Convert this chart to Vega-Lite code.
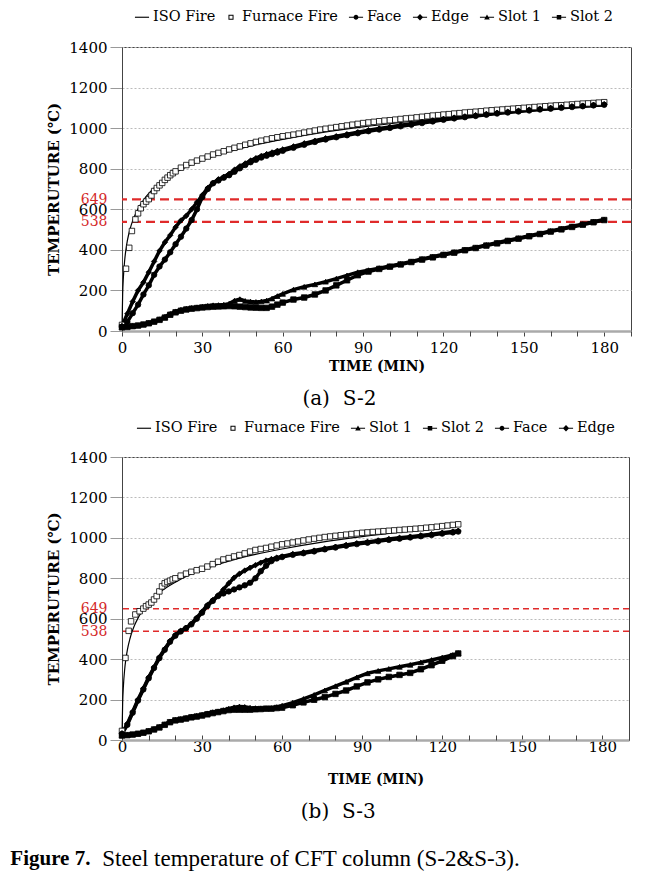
{
"$schema": "https://vega.github.io/schema/vega-lite/v6.json",
"background": "white",
"padding": {"left": 10, "top": 8, "right": 5, "bottom": 3},
"config": {"view": {"stroke": "#444", "strokeWidth": 1}, "font": "DejaVu Serif", "axis": {"labelOverlap": false}},
"datasets": {
"a": [
{"s":"ISO Fire","t":0,"v":20},{"s":"ISO Fire","t":0.25,"v":185},{"s":"ISO Fire","t":0.5,"v":261},{"s":"ISO Fire","t":1,"v":349},{"s":"ISO Fire","t":1.5,"v":404},{"s":"ISO Fire","t":2,"v":445},{"s":"ISO Fire","t":3,"v":502},{"s":"ISO Fire","t":4,"v":544},{"s":"ISO Fire","t":5,"v":576},{"s":"ISO Fire","t":6,"v":603},{"s":"ISO Fire","t":7,"v":626},{"s":"ISO Fire","t":8,"v":645},{"s":"ISO Fire","t":10,"v":678},{"s":"ISO Fire","t":12,"v":705},{"s":"ISO Fire","t":15,"v":739},{"s":"ISO Fire","t":20,"v":781},{"s":"ISO Fire","t":25,"v":815},{"s":"ISO Fire","t":30,"v":842},{"s":"ISO Fire","t":40,"v":885},{"s":"ISO Fire","t":50,"v":918},{"s":"ISO Fire","t":60,"v":945},{"s":"ISO Fire","t":75,"v":979},{"s":"ISO Fire","t":90,"v":1006},{"s":"ISO Fire","t":105,"v":1029},{"s":"ISO Fire","t":120,"v":1049},{"s":"ISO Fire","t":135,"v":1067},{"s":"ISO Fire","t":150,"v":1082},{"s":"ISO Fire","t":165,"v":1097},{"s":"ISO Fire","t":180,"v":1110},
{"s":"Furnace Fire","t":0,"v":30},{"s":"Furnace Fire","t":1.5,"v":307},{"s":"Furnace Fire","t":2.7,"v":410},{"s":"Furnace Fire","t":3.7,"v":493},{"s":"Furnace Fire","t":5,"v":550},{"s":"Furnace Fire","t":6,"v":580},{"s":"Furnace Fire","t":7,"v":605},{"s":"Furnace Fire","t":8,"v":625},{"s":"Furnace Fire","t":9,"v":638},{"s":"Furnace Fire","t":10,"v":650},{"s":"Furnace Fire","t":11,"v":668},{"s":"Furnace Fire","t":12,"v":690},{"s":"Furnace Fire","t":13,"v":705},{"s":"Furnace Fire","t":14,"v":718},{"s":"Furnace Fire","t":15,"v":730},{"s":"Furnace Fire","t":16,"v":745},{"s":"Furnace Fire","t":17,"v":756},{"s":"Furnace Fire","t":18,"v":768},{"s":"Furnace Fire","t":19,"v":778},{"s":"Furnace Fire","t":20,"v":787},{"s":"Furnace Fire","t":22,"v":805},{"s":"Furnace Fire","t":24,"v":818},{"s":"Furnace Fire","t":26,"v":830},{"s":"Furnace Fire","t":28,"v":840},{"s":"Furnace Fire","t":30,"v":850},{"s":"Furnace Fire","t":32,"v":860},{"s":"Furnace Fire","t":34,"v":870},{"s":"Furnace Fire","t":36,"v":878},{"s":"Furnace Fire","t":38,"v":886},{"s":"Furnace Fire","t":40,"v":895},{"s":"Furnace Fire","t":42,"v":903},{"s":"Furnace Fire","t":44,"v":910},{"s":"Furnace Fire","t":46,"v":918},{"s":"Furnace Fire","t":48,"v":925},{"s":"Furnace Fire","t":50,"v":932},{"s":"Furnace Fire","t":52,"v":938},{"s":"Furnace Fire","t":54,"v":944},{"s":"Furnace Fire","t":56,"v":950},{"s":"Furnace Fire","t":58,"v":955},{"s":"Furnace Fire","t":60,"v":960},{"s":"Furnace Fire","t":62,"v":964},{"s":"Furnace Fire","t":64,"v":968},{"s":"Furnace Fire","t":66,"v":973},{"s":"Furnace Fire","t":68,"v":978},{"s":"Furnace Fire","t":70,"v":983},{"s":"Furnace Fire","t":72,"v":988},{"s":"Furnace Fire","t":74,"v":993},{"s":"Furnace Fire","t":76,"v":997},{"s":"Furnace Fire","t":78,"v":1001},{"s":"Furnace Fire","t":80,"v":1005},{"s":"Furnace Fire","t":82,"v":1009},{"s":"Furnace Fire","t":84,"v":1013},{"s":"Furnace Fire","t":86,"v":1017},{"s":"Furnace Fire","t":88,"v":1021},{"s":"Furnace Fire","t":90,"v":1025},{"s":"Furnace Fire","t":92,"v":1028},{"s":"Furnace Fire","t":94,"v":1031},{"s":"Furnace Fire","t":96,"v":1034},{"s":"Furnace Fire","t":98,"v":1037},{"s":"Furnace Fire","t":100,"v":1039},{"s":"Furnace Fire","t":102,"v":1042},{"s":"Furnace Fire","t":104,"v":1045},{"s":"Furnace Fire","t":106,"v":1048},{"s":"Furnace Fire","t":108,"v":1050},{"s":"Furnace Fire","t":110,"v":1053},{"s":"Furnace Fire","t":112,"v":1056},{"s":"Furnace Fire","t":114,"v":1059},{"s":"Furnace Fire","t":116,"v":1062},{"s":"Furnace Fire","t":118,"v":1064},{"s":"Furnace Fire","t":120,"v":1067},{"s":"Furnace Fire","t":122,"v":1069},{"s":"Furnace Fire","t":124,"v":1072},{"s":"Furnace Fire","t":126,"v":1074},{"s":"Furnace Fire","t":128,"v":1077},{"s":"Furnace Fire","t":130,"v":1079},{"s":"Furnace Fire","t":132,"v":1081},{"s":"Furnace Fire","t":134,"v":1083},{"s":"Furnace Fire","t":136,"v":1086},{"s":"Furnace Fire","t":138,"v":1088},{"s":"Furnace Fire","t":140,"v":1090},{"s":"Furnace Fire","t":142,"v":1092},{"s":"Furnace Fire","t":144,"v":1094},{"s":"Furnace Fire","t":146,"v":1096},{"s":"Furnace Fire","t":148,"v":1098},{"s":"Furnace Fire","t":150,"v":1100},{"s":"Furnace Fire","t":152,"v":1102},{"s":"Furnace Fire","t":154,"v":1104},{"s":"Furnace Fire","t":156,"v":1106},{"s":"Furnace Fire","t":158,"v":1108},{"s":"Furnace Fire","t":160,"v":1110},{"s":"Furnace Fire","t":162,"v":1112},{"s":"Furnace Fire","t":164,"v":1113},{"s":"Furnace Fire","t":166,"v":1115},{"s":"Furnace Fire","t":168,"v":1117},{"s":"Furnace Fire","t":170,"v":1119},{"s":"Furnace Fire","t":172,"v":1121},{"s":"Furnace Fire","t":174,"v":1122},{"s":"Furnace Fire","t":176,"v":1124},{"s":"Furnace Fire","t":178,"v":1126},{"s":"Furnace Fire","t":180,"v":1128},
{"s":"Edge","t":0,"v":25},{"s":"Edge","t":2,"v":85},{"s":"Edge","t":4,"v":145},{"s":"Edge","t":6,"v":200},{"s":"Edge","t":8,"v":240},{"s":"Edge","t":10,"v":290},{"s":"Edge","t":12,"v":343},{"s":"Edge","t":14,"v":395},{"s":"Edge","t":16,"v":437},{"s":"Edge","t":18,"v":472},{"s":"Edge","t":20,"v":512},{"s":"Edge","t":22,"v":545},{"s":"Edge","t":24,"v":568},{"s":"Edge","t":26,"v":600},{"s":"Edge","t":28,"v":635},{"s":"Edge","t":30,"v":670},{"s":"Edge","t":32,"v":705},{"s":"Edge","t":34,"v":730},{"s":"Edge","t":36,"v":748},{"s":"Edge","t":38,"v":760},{"s":"Edge","t":40,"v":775},{"s":"Edge","t":42,"v":795},{"s":"Edge","t":44,"v":812},{"s":"Edge","t":46,"v":826},{"s":"Edge","t":48,"v":840},{"s":"Edge","t":50,"v":852},{"s":"Edge","t":52,"v":863},{"s":"Edge","t":54,"v":872},{"s":"Edge","t":56,"v":880},{"s":"Edge","t":58,"v":888},{"s":"Edge","t":60,"v":895},{"s":"Edge","t":64,"v":910},{"s":"Edge","t":68,"v":925},{"s":"Edge","t":72,"v":938},{"s":"Edge","t":76,"v":950},{"s":"Edge","t":80,"v":960},{"s":"Edge","t":84,"v":970},{"s":"Edge","t":88,"v":980},{"s":"Edge","t":92,"v":990},{"s":"Edge","t":96,"v":998},{"s":"Edge","t":100,"v":1006},{"s":"Edge","t":104,"v":1014},{"s":"Edge","t":108,"v":1022},{"s":"Edge","t":112,"v":1030},{"s":"Edge","t":116,"v":1038},{"s":"Edge","t":120,"v":1046},{"s":"Edge","t":124,"v":1052},{"s":"Edge","t":128,"v":1058},{"s":"Edge","t":132,"v":1064},{"s":"Edge","t":136,"v":1070},{"s":"Edge","t":140,"v":1076},{"s":"Edge","t":144,"v":1081},{"s":"Edge","t":148,"v":1086},{"s":"Edge","t":152,"v":1091},{"s":"Edge","t":156,"v":1096},{"s":"Edge","t":160,"v":1100},{"s":"Edge","t":164,"v":1104},{"s":"Edge","t":168,"v":1108},{"s":"Edge","t":172,"v":1111},{"s":"Edge","t":176,"v":1115},{"s":"Edge","t":180,"v":1118},
{"s":"Face","t":0,"v":20},{"s":"Face","t":2,"v":45},{"s":"Face","t":4,"v":88},{"s":"Face","t":6,"v":130},{"s":"Face","t":8,"v":180},{"s":"Face","t":10,"v":225},{"s":"Face","t":12,"v":277},{"s":"Face","t":14,"v":318},{"s":"Face","t":16,"v":352},{"s":"Face","t":18,"v":388},{"s":"Face","t":20,"v":428},{"s":"Face","t":22,"v":465},{"s":"Face","t":24,"v":505},{"s":"Face","t":26,"v":547},{"s":"Face","t":28,"v":600},{"s":"Face","t":30,"v":660},{"s":"Face","t":32,"v":700},{"s":"Face","t":34,"v":728},{"s":"Face","t":36,"v":742},{"s":"Face","t":38,"v":756},{"s":"Face","t":40,"v":768},{"s":"Face","t":42,"v":785},{"s":"Face","t":44,"v":802},{"s":"Face","t":46,"v":818},{"s":"Face","t":48,"v":832},{"s":"Face","t":50,"v":844},{"s":"Face","t":52,"v":855},{"s":"Face","t":54,"v":864},{"s":"Face","t":56,"v":872},{"s":"Face","t":58,"v":880},{"s":"Face","t":60,"v":888},{"s":"Face","t":64,"v":903},{"s":"Face","t":68,"v":918},{"s":"Face","t":72,"v":932},{"s":"Face","t":76,"v":944},{"s":"Face","t":80,"v":955},{"s":"Face","t":84,"v":965},{"s":"Face","t":88,"v":975},{"s":"Face","t":92,"v":985},{"s":"Face","t":96,"v":993},{"s":"Face","t":100,"v":1001},{"s":"Face","t":104,"v":1009},{"s":"Face","t":108,"v":1017},{"s":"Face","t":112,"v":1025},{"s":"Face","t":116,"v":1033},{"s":"Face","t":120,"v":1041},{"s":"Face","t":124,"v":1048},{"s":"Face","t":128,"v":1054},{"s":"Face","t":132,"v":1060},{"s":"Face","t":136,"v":1066},{"s":"Face","t":140,"v":1072},{"s":"Face","t":144,"v":1077},{"s":"Face","t":148,"v":1082},{"s":"Face","t":152,"v":1087},{"s":"Face","t":156,"v":1092},{"s":"Face","t":160,"v":1096},{"s":"Face","t":164,"v":1100},{"s":"Face","t":168,"v":1104},{"s":"Face","t":172,"v":1108},{"s":"Face","t":176,"v":1112},{"s":"Face","t":180,"v":1115},
{"s":"Slot 1","t":0,"v":20},{"s":"Slot 1","t":2,"v":22},{"s":"Slot 1","t":4,"v":25},{"s":"Slot 1","t":6,"v":28},{"s":"Slot 1","t":8,"v":33},{"s":"Slot 1","t":10,"v":40},{"s":"Slot 1","t":12,"v":48},{"s":"Slot 1","t":14,"v":58},{"s":"Slot 1","t":16,"v":70},{"s":"Slot 1","t":18,"v":85},{"s":"Slot 1","t":20,"v":97},{"s":"Slot 1","t":22,"v":105},{"s":"Slot 1","t":24,"v":110},{"s":"Slot 1","t":26,"v":114},{"s":"Slot 1","t":28,"v":117},{"s":"Slot 1","t":30,"v":120},{"s":"Slot 1","t":32,"v":124},{"s":"Slot 1","t":34,"v":127},{"s":"Slot 1","t":36,"v":128},{"s":"Slot 1","t":38,"v":130},{"s":"Slot 1","t":40,"v":135},{"s":"Slot 1","t":42,"v":150},{"s":"Slot 1","t":44,"v":157},{"s":"Slot 1","t":46,"v":148},{"s":"Slot 1","t":48,"v":145},{"s":"Slot 1","t":50,"v":143},{"s":"Slot 1","t":52,"v":146},{"s":"Slot 1","t":54,"v":150},{"s":"Slot 1","t":56,"v":160},{"s":"Slot 1","t":58,"v":172},{"s":"Slot 1","t":60,"v":183},{"s":"Slot 1","t":64,"v":204},{"s":"Slot 1","t":68,"v":218},{"s":"Slot 1","t":72,"v":230},{"s":"Slot 1","t":76,"v":243},{"s":"Slot 1","t":80,"v":258},{"s":"Slot 1","t":84,"v":274},{"s":"Slot 1","t":88,"v":290},{"s":"Slot 1","t":92,"v":300},{"s":"Slot 1","t":96,"v":310},{"s":"Slot 1","t":100,"v":320},{"s":"Slot 1","t":104,"v":331},{"s":"Slot 1","t":108,"v":343},{"s":"Slot 1","t":112,"v":355},{"s":"Slot 1","t":116,"v":366},{"s":"Slot 1","t":120,"v":378},{"s":"Slot 1","t":124,"v":389},{"s":"Slot 1","t":128,"v":401},{"s":"Slot 1","t":132,"v":412},{"s":"Slot 1","t":136,"v":424},{"s":"Slot 1","t":140,"v":435},{"s":"Slot 1","t":144,"v":447},{"s":"Slot 1","t":148,"v":458},{"s":"Slot 1","t":152,"v":470},{"s":"Slot 1","t":156,"v":481},{"s":"Slot 1","t":160,"v":493},{"s":"Slot 1","t":164,"v":504},{"s":"Slot 1","t":168,"v":516},{"s":"Slot 1","t":172,"v":527},{"s":"Slot 1","t":176,"v":539},{"s":"Slot 1","t":180,"v":550},
{"s":"Slot 2","t":0,"v":18},{"s":"Slot 2","t":2,"v":20},{"s":"Slot 2","t":4,"v":24},{"s":"Slot 2","t":6,"v":27},{"s":"Slot 2","t":8,"v":32},{"s":"Slot 2","t":10,"v":38},{"s":"Slot 2","t":12,"v":46},{"s":"Slot 2","t":14,"v":55},{"s":"Slot 2","t":16,"v":66},{"s":"Slot 2","t":18,"v":80},{"s":"Slot 2","t":20,"v":92},{"s":"Slot 2","t":22,"v":100},{"s":"Slot 2","t":24,"v":106},{"s":"Slot 2","t":26,"v":110},{"s":"Slot 2","t":28,"v":113},{"s":"Slot 2","t":30,"v":116},{"s":"Slot 2","t":32,"v":118},{"s":"Slot 2","t":34,"v":120},{"s":"Slot 2","t":36,"v":121},{"s":"Slot 2","t":38,"v":122},{"s":"Slot 2","t":40,"v":123},{"s":"Slot 2","t":42,"v":122},{"s":"Slot 2","t":44,"v":120},{"s":"Slot 2","t":46,"v":118},{"s":"Slot 2","t":48,"v":116},{"s":"Slot 2","t":50,"v":115},{"s":"Slot 2","t":52,"v":114},{"s":"Slot 2","t":54,"v":114},{"s":"Slot 2","t":56,"v":120},{"s":"Slot 2","t":58,"v":130},{"s":"Slot 2","t":60,"v":140},{"s":"Slot 2","t":64,"v":155},{"s":"Slot 2","t":68,"v":165},{"s":"Slot 2","t":72,"v":180},{"s":"Slot 2","t":76,"v":200},{"s":"Slot 2","t":80,"v":225},{"s":"Slot 2","t":84,"v":250},{"s":"Slot 2","t":88,"v":275},{"s":"Slot 2","t":92,"v":293},{"s":"Slot 2","t":96,"v":306},{"s":"Slot 2","t":100,"v":317},{"s":"Slot 2","t":104,"v":328},{"s":"Slot 2","t":108,"v":340},{"s":"Slot 2","t":112,"v":352},{"s":"Slot 2","t":116,"v":363},{"s":"Slot 2","t":120,"v":375},{"s":"Slot 2","t":124,"v":386},{"s":"Slot 2","t":128,"v":398},{"s":"Slot 2","t":132,"v":409},{"s":"Slot 2","t":136,"v":421},{"s":"Slot 2","t":140,"v":432},{"s":"Slot 2","t":144,"v":444},{"s":"Slot 2","t":148,"v":455},{"s":"Slot 2","t":152,"v":467},{"s":"Slot 2","t":156,"v":478},{"s":"Slot 2","t":160,"v":490},{"s":"Slot 2","t":164,"v":501},{"s":"Slot 2","t":168,"v":513},{"s":"Slot 2","t":172,"v":524},{"s":"Slot 2","t":176,"v":536},{"s":"Slot 2","t":180,"v":547}
],
"b": [
{"s":"ISO Fire","t":0,"v":20},{"s":"ISO Fire","t":0.25,"v":185},{"s":"ISO Fire","t":0.5,"v":261},{"s":"ISO Fire","t":1,"v":349},{"s":"ISO Fire","t":1.5,"v":404},{"s":"ISO Fire","t":2,"v":445},{"s":"ISO Fire","t":3,"v":502},{"s":"ISO Fire","t":4,"v":544},{"s":"ISO Fire","t":5,"v":576},{"s":"ISO Fire","t":6,"v":603},{"s":"ISO Fire","t":7,"v":626},{"s":"ISO Fire","t":8,"v":645},{"s":"ISO Fire","t":10,"v":678},{"s":"ISO Fire","t":12,"v":705},{"s":"ISO Fire","t":15,"v":739},{"s":"ISO Fire","t":20,"v":781},{"s":"ISO Fire","t":25,"v":815},{"s":"ISO Fire","t":30,"v":842},{"s":"ISO Fire","t":40,"v":885},{"s":"ISO Fire","t":50,"v":918},{"s":"ISO Fire","t":60,"v":945},{"s":"ISO Fire","t":75,"v":979},{"s":"ISO Fire","t":90,"v":1006},{"s":"ISO Fire","t":105,"v":1029},{"s":"ISO Fire","t":120,"v":1049},{"s":"ISO Fire","t":126,"v":1057},
{"s":"Furnace Fire","t":0,"v":45},{"s":"Furnace Fire","t":1.3,"v":406},{"s":"Furnace Fire","t":2.5,"v":540},{"s":"Furnace Fire","t":3.4,"v":587},{"s":"Furnace Fire","t":5,"v":621},{"s":"Furnace Fire","t":6.6,"v":637},{"s":"Furnace Fire","t":8,"v":650},{"s":"Furnace Fire","t":9,"v":662},{"s":"Furnace Fire","t":10,"v":670},{"s":"Furnace Fire","t":11,"v":680},{"s":"Furnace Fire","t":12,"v":695},{"s":"Furnace Fire","t":13,"v":712},{"s":"Furnace Fire","t":14,"v":735},{"s":"Furnace Fire","t":15,"v":760},{"s":"Furnace Fire","t":16,"v":775},{"s":"Furnace Fire","t":17,"v":782},{"s":"Furnace Fire","t":18,"v":788},{"s":"Furnace Fire","t":19,"v":794},{"s":"Furnace Fire","t":20,"v":800},{"s":"Furnace Fire","t":22,"v":813},{"s":"Furnace Fire","t":24,"v":823},{"s":"Furnace Fire","t":26,"v":832},{"s":"Furnace Fire","t":28,"v":840},{"s":"Furnace Fire","t":30,"v":847},{"s":"Furnace Fire","t":32,"v":858},{"s":"Furnace Fire","t":34,"v":870},{"s":"Furnace Fire","t":36,"v":882},{"s":"Furnace Fire","t":38,"v":893},{"s":"Furnace Fire","t":40,"v":900},{"s":"Furnace Fire","t":42,"v":908},{"s":"Furnace Fire","t":44,"v":915},{"s":"Furnace Fire","t":46,"v":923},{"s":"Furnace Fire","t":48,"v":932},{"s":"Furnace Fire","t":50,"v":940},{"s":"Furnace Fire","t":52,"v":945},{"s":"Furnace Fire","t":54,"v":950},{"s":"Furnace Fire","t":56,"v":956},{"s":"Furnace Fire","t":58,"v":962},{"s":"Furnace Fire","t":60,"v":968},{"s":"Furnace Fire","t":62,"v":972},{"s":"Furnace Fire","t":64,"v":977},{"s":"Furnace Fire","t":66,"v":982},{"s":"Furnace Fire","t":68,"v":987},{"s":"Furnace Fire","t":70,"v":992},{"s":"Furnace Fire","t":72,"v":996},{"s":"Furnace Fire","t":74,"v":1000},{"s":"Furnace Fire","t":76,"v":1004},{"s":"Furnace Fire","t":78,"v":1007},{"s":"Furnace Fire","t":80,"v":1010},{"s":"Furnace Fire","t":82,"v":1013},{"s":"Furnace Fire","t":84,"v":1016},{"s":"Furnace Fire","t":86,"v":1019},{"s":"Furnace Fire","t":88,"v":1022},{"s":"Furnace Fire","t":90,"v":1025},{"s":"Furnace Fire","t":92,"v":1027},{"s":"Furnace Fire","t":94,"v":1029},{"s":"Furnace Fire","t":96,"v":1031},{"s":"Furnace Fire","t":98,"v":1033},{"s":"Furnace Fire","t":100,"v":1035},{"s":"Furnace Fire","t":102,"v":1037},{"s":"Furnace Fire","t":104,"v":1039},{"s":"Furnace Fire","t":106,"v":1041},{"s":"Furnace Fire","t":108,"v":1043},{"s":"Furnace Fire","t":110,"v":1045},{"s":"Furnace Fire","t":112,"v":1047},{"s":"Furnace Fire","t":114,"v":1050},{"s":"Furnace Fire","t":116,"v":1052},{"s":"Furnace Fire","t":118,"v":1055},{"s":"Furnace Fire","t":120,"v":1058},{"s":"Furnace Fire","t":122,"v":1061},{"s":"Furnace Fire","t":124,"v":1064},{"s":"Furnace Fire","t":126,"v":1067},
{"s":"Edge","t":0,"v":33},{"s":"Edge","t":2,"v":80},{"s":"Edge","t":4,"v":140},{"s":"Edge","t":6,"v":200},{"s":"Edge","t":8,"v":255},{"s":"Edge","t":10,"v":310},{"s":"Edge","t":12,"v":360},{"s":"Edge","t":14,"v":410},{"s":"Edge","t":16,"v":450},{"s":"Edge","t":18,"v":490},{"s":"Edge","t":20,"v":520},{"s":"Edge","t":22,"v":540},{"s":"Edge","t":24,"v":555},{"s":"Edge","t":26,"v":575},{"s":"Edge","t":28,"v":605},{"s":"Edge","t":30,"v":635},{"s":"Edge","t":32,"v":668},{"s":"Edge","t":34,"v":692},{"s":"Edge","t":36,"v":715},{"s":"Edge","t":38,"v":745},{"s":"Edge","t":40,"v":775},{"s":"Edge","t":42,"v":803},{"s":"Edge","t":44,"v":822},{"s":"Edge","t":46,"v":838},{"s":"Edge","t":48,"v":852},{"s":"Edge","t":50,"v":865},{"s":"Edge","t":52,"v":877},{"s":"Edge","t":54,"v":888},{"s":"Edge","t":56,"v":895},{"s":"Edge","t":58,"v":902},{"s":"Edge","t":60,"v":908},{"s":"Edge","t":64,"v":920},{"s":"Edge","t":68,"v":928},{"s":"Edge","t":72,"v":937},{"s":"Edge","t":76,"v":947},{"s":"Edge","t":80,"v":956},{"s":"Edge","t":84,"v":965},{"s":"Edge","t":88,"v":973},{"s":"Edge","t":92,"v":980},{"s":"Edge","t":96,"v":987},{"s":"Edge","t":100,"v":994},{"s":"Edge","t":104,"v":1000},{"s":"Edge","t":108,"v":1006},{"s":"Edge","t":112,"v":1012},{"s":"Edge","t":116,"v":1018},{"s":"Edge","t":120,"v":1025},{"s":"Edge","t":124,"v":1031},{"s":"Edge","t":126,"v":1035},
{"s":"Face","t":0,"v":30},{"s":"Face","t":2,"v":75},{"s":"Face","t":4,"v":135},{"s":"Face","t":6,"v":195},{"s":"Face","t":8,"v":250},{"s":"Face","t":10,"v":305},{"s":"Face","t":12,"v":356},{"s":"Face","t":14,"v":405},{"s":"Face","t":16,"v":446},{"s":"Face","t":18,"v":486},{"s":"Face","t":20,"v":516},{"s":"Face","t":22,"v":537},{"s":"Face","t":24,"v":553},{"s":"Face","t":26,"v":572},{"s":"Face","t":28,"v":600},{"s":"Face","t":30,"v":630},{"s":"Face","t":32,"v":663},{"s":"Face","t":34,"v":688},{"s":"Face","t":36,"v":712},{"s":"Face","t":38,"v":725},{"s":"Face","t":40,"v":735},{"s":"Face","t":42,"v":745},{"s":"Face","t":44,"v":755},{"s":"Face","t":46,"v":765},{"s":"Face","t":48,"v":778},{"s":"Face","t":50,"v":800},{"s":"Face","t":52,"v":835},{"s":"Face","t":54,"v":862},{"s":"Face","t":56,"v":885},{"s":"Face","t":58,"v":898},{"s":"Face","t":60,"v":905},{"s":"Face","t":64,"v":916},{"s":"Face","t":68,"v":924},{"s":"Face","t":72,"v":933},{"s":"Face","t":76,"v":943},{"s":"Face","t":80,"v":952},{"s":"Face","t":84,"v":961},{"s":"Face","t":88,"v":969},{"s":"Face","t":92,"v":976},{"s":"Face","t":96,"v":983},{"s":"Face","t":100,"v":990},{"s":"Face","t":104,"v":996},{"s":"Face","t":108,"v":1002},{"s":"Face","t":112,"v":1008},{"s":"Face","t":116,"v":1014},{"s":"Face","t":120,"v":1021},{"s":"Face","t":124,"v":1027},{"s":"Face","t":126,"v":1031},
{"s":"Slot 1","t":0,"v":25},{"s":"Slot 1","t":2,"v":26},{"s":"Slot 1","t":4,"v":28},{"s":"Slot 1","t":6,"v":32},{"s":"Slot 1","t":8,"v":38},{"s":"Slot 1","t":10,"v":45},{"s":"Slot 1","t":12,"v":55},{"s":"Slot 1","t":14,"v":65},{"s":"Slot 1","t":16,"v":78},{"s":"Slot 1","t":18,"v":92},{"s":"Slot 1","t":20,"v":100},{"s":"Slot 1","t":22,"v":104},{"s":"Slot 1","t":24,"v":110},{"s":"Slot 1","t":26,"v":116},{"s":"Slot 1","t":28,"v":120},{"s":"Slot 1","t":30,"v":125},{"s":"Slot 1","t":32,"v":132},{"s":"Slot 1","t":34,"v":138},{"s":"Slot 1","t":36,"v":142},{"s":"Slot 1","t":38,"v":148},{"s":"Slot 1","t":40,"v":155},{"s":"Slot 1","t":42,"v":162},{"s":"Slot 1","t":44,"v":166},{"s":"Slot 1","t":46,"v":164},{"s":"Slot 1","t":48,"v":160},{"s":"Slot 1","t":50,"v":158},{"s":"Slot 1","t":52,"v":157},{"s":"Slot 1","t":54,"v":157},{"s":"Slot 1","t":56,"v":158},{"s":"Slot 1","t":58,"v":163},{"s":"Slot 1","t":60,"v":170},{"s":"Slot 1","t":64,"v":185},{"s":"Slot 1","t":68,"v":203},{"s":"Slot 1","t":72,"v":223},{"s":"Slot 1","t":76,"v":245},{"s":"Slot 1","t":80,"v":266},{"s":"Slot 1","t":84,"v":288},{"s":"Slot 1","t":88,"v":310},{"s":"Slot 1","t":92,"v":330},{"s":"Slot 1","t":96,"v":342},{"s":"Slot 1","t":100,"v":352},{"s":"Slot 1","t":104,"v":362},{"s":"Slot 1","t":108,"v":372},{"s":"Slot 1","t":112,"v":384},{"s":"Slot 1","t":116,"v":396},{"s":"Slot 1","t":120,"v":408},{"s":"Slot 1","t":124,"v":421},{"s":"Slot 1","t":126,"v":430},
{"s":"Slot 2","t":0,"v":22},{"s":"Slot 2","t":2,"v":24},{"s":"Slot 2","t":4,"v":27},{"s":"Slot 2","t":6,"v":31},{"s":"Slot 2","t":8,"v":36},{"s":"Slot 2","t":10,"v":43},{"s":"Slot 2","t":12,"v":52},{"s":"Slot 2","t":14,"v":62},{"s":"Slot 2","t":16,"v":75},{"s":"Slot 2","t":18,"v":88},{"s":"Slot 2","t":20,"v":97},{"s":"Slot 2","t":22,"v":101},{"s":"Slot 2","t":24,"v":106},{"s":"Slot 2","t":26,"v":112},{"s":"Slot 2","t":28,"v":116},{"s":"Slot 2","t":30,"v":121},{"s":"Slot 2","t":32,"v":127},{"s":"Slot 2","t":34,"v":133},{"s":"Slot 2","t":36,"v":138},{"s":"Slot 2","t":38,"v":143},{"s":"Slot 2","t":40,"v":148},{"s":"Slot 2","t":42,"v":150},{"s":"Slot 2","t":44,"v":150},{"s":"Slot 2","t":46,"v":150},{"s":"Slot 2","t":48,"v":150},{"s":"Slot 2","t":50,"v":152},{"s":"Slot 2","t":52,"v":153},{"s":"Slot 2","t":54,"v":155},{"s":"Slot 2","t":56,"v":155},{"s":"Slot 2","t":58,"v":158},{"s":"Slot 2","t":60,"v":160},{"s":"Slot 2","t":64,"v":172},{"s":"Slot 2","t":68,"v":186},{"s":"Slot 2","t":72,"v":199},{"s":"Slot 2","t":76,"v":212},{"s":"Slot 2","t":80,"v":228},{"s":"Slot 2","t":84,"v":245},{"s":"Slot 2","t":88,"v":265},{"s":"Slot 2","t":92,"v":285},{"s":"Slot 2","t":96,"v":300},{"s":"Slot 2","t":100,"v":312},{"s":"Slot 2","t":104,"v":322},{"s":"Slot 2","t":108,"v":332},{"s":"Slot 2","t":112,"v":350},{"s":"Slot 2","t":116,"v":370},{"s":"Slot 2","t":120,"v":392},{"s":"Slot 2","t":124,"v":415},{"s":"Slot 2","t":126,"v":428}
]
},
"title": {"text": "Figure 7.", "orient": "bottom", "anchor": "start", "frame": "bounds", "font": "Liberation Serif", "fontSize": 21, "fontWeight": "bold", "color": "black", "offset": 0, "dx": -36, "dy": -23},
"vconcat": [{
"title": {"text": "Steel temperature of CFT column (S-2&S-3).", "orient": "bottom", "anchor": "start", "frame": "bounds", "font": "Liberation Serif", "fontSize": 23, "fontWeight": "normal", "color": "black", "offset": 25, "dx": 56},
"spacing": 9,
"resolve": {"scale": {"shape": "independent", "fill": "independent", "x": "independent", "y": "independent"}, "legend": {"shape": "independent", "fill": "independent"}},
"vconcat": [
{
"width": 509, "height": 284,
"data": {"name": "a"},
"title": {"text": "(a)\u00a0\u00a0S-2", "orient": "bottom", "anchor": "middle", "frame": "bounds", "font": "DejaVu Serif", "fontSize": 20, "fontWeight": "normal", "color": "black", "offset": 16},
"resolve": {"scale": {"shape": "independent", "fill": "independent"}, "axis": {"x": "independent"}},
"encoding": {"y": {"field": "v", "type": "quantitative", "scale": {"domain": [0, 1400], "nice": false},
  "axis": {"title": "TEMPERUTURE (℃)", "titleFont": "DejaVu Serif", "titleFontWeight": "bold", "titleFontSize": 15, "titleColor": "black", "titlePadding": 7, "format": "d",
    "values": [0, 200, 400, 538, 600, 649, 800, 1000, 1200, 1400], "labelFont": "DejaVu Serif", "labelOverlap": false, "labelBound": false,
    "labelFontSize": {"condition": {"test": "datum.value == 538 || datum.value == 649", "value": 14}, "value": 15},
    "labelColor": {"condition": {"test": "datum.value == 538 || datum.value == 649", "value": "#d42a2a"}, "value": "black"},
    "labelPadding": 3, "tickSize": 12, "tickColor": "#999",
    "tickOpacity": {"condition": {"test": "datum.value == 538 || datum.value == 649", "value": 0}, "value": 1},
    "gridColor": "#bbb", "gridDash": [2, 2],
    "gridOpacity": {"condition": {"test": "datum.value == 538 || datum.value == 649", "value": 0}, "value": 1},
    "domainColor": "#444"}}},
"layer": [
 {"data": {"values": [{"v": 649}, {"v": 538}]}, "mark": {"type": "rule", "color": "#e02a2a", "strokeWidth": 2.2, "strokeDash": [9, 5]}},
 {"transform": [{"filter": "datum.s === 'ISO Fire'"}], "mark": {"type": "line", "color": "black", "strokeWidth": 1.2, "interpolate": "monotone"},
  "encoding": {"x": {"field": "t", "type": "quantitative", "scale": {"domain": [0, 190], "nice": false, "zero": false},
    "axis": {"orient": "bottom", "title": "TIME (MIN)", "titleFont": "DejaVu Serif", "titleFontWeight": "bold", "titleFontSize": 14, "titleColor": "black", "titlePadding": 4,
      "values": [0, 30, 60, 90, 120, 150, 180], "format": "d",
      "labelFont": "DejaVu Serif", "labelFontSize": 15, "labelColor": "black", "labelPadding": 4, "labelFlush": false, "labelOverlap": false,
      "tickSize": 5, "tickColor": "#444", "domainColor": "#aaa", "domainWidth": 2.5, "grid": false}}}},
 {"transform": [{"filter": "datum.s !== 'ISO Fire' && datum.s !== 'Furnace Fire'"}], "mark": {"type": "line", "color": "black", "strokeWidth": 3.5},
  "encoding": {"x": {"field": "t", "type": "quantitative", "axis": null}, "detail": {"field": "s"}}},
 {"transform": [{"filter": "datum.s !== 'ISO Fire'"}], "mark": {"type": "point", "filled": true, "stroke": "black", "strokeWidth": 0.8, "size": 30, "opacity": 1},
  "encoding": {"x": {"field": "t", "type": "quantitative",
     "axis": {"orient": "bottom", "title": null, "labels": false, "domain": false, "grid": false, "values": [10, 20, 40, 50, 70, 80, 100, 110, 130, 140, 160, 170, 190], "tickSize": 5, "tickColor": "#444"}},
   "fill": {"field": "s", "type": "nominal", "scale": {"domain": ["ISO Fire", "Furnace Fire", "Face", "Edge", "Slot 1", "Slot 2"], "range": ["black", "white", "black", "black", "black", "black"]}, "legend": null},
   "shape": {"field": "s", "type": "nominal", "scale": {"domain": ["ISO Fire", "Furnace Fire", "Face", "Edge", "Slot 1", "Slot 2"], "range": ["circle", "square", "circle", "diamond", "triangle-up", "square"]}, "legend": null}}},
 {"transform": [{"filter": "datum.t === 0"}], "mark": {"type": "point", "filled": true, "color": "black", "opacity": 0},
  "encoding": {"x": {"field": "t", "type": "quantitative", "axis": null},
   "shape": {"field": "s", "type": "nominal", "scale": {"domain": ["ISO Fire", "Furnace Fire", "Face", "Edge", "Slot 1", "Slot 2"],
     "range": ["M-1,-0.08H1V0.08H-1Z", "M-0.36,-0.36H0.36V0.36H-0.36ZM-0.22,-0.22V0.22H0.22V-0.22Z", "M-1,-0.08H1V0.08H-1ZM-0.34,0A0.34,0.34,0,1,1,0.34,0A0.34,0.34,0,1,1,-0.34,0Z", "M-1,-0.08H1V0.08H-1ZM-0.45,0L0,-0.45L0.45,0L0,0.45Z", "M-1,-0.08H1V0.08H-1ZM-0.4,0.32L0,-0.4L0.4,0.32Z", "M-1,-0.08H1V0.08H-1ZM-0.32,-0.32H0.32V0.32H-0.32Z"]},
    "legend": {"orient": "none", "legendX": 12, "legendY": -38, "direction": "horizontal", "columns": 6, "title": null, "labelFont": "DejaVu Serif", "labelFontSize": 14.5, "labelColor": "black", "symbolSize": 200, "labelOffset": 3, "columnPadding": 7, "symbolOpacity": 1}}}}
]
},
{
"width": 507, "height": 283,
"data": {"name": "b"},
"title": {"text": "(b)\u00a0\u00a0S-3", "orient": "bottom", "anchor": "middle", "frame": "bounds", "font": "DejaVu Serif", "fontSize": 20, "fontWeight": "normal", "color": "black", "offset": 16},
"resolve": {"scale": {"shape": "independent", "fill": "independent"}, "axis": {"x": "independent"}},
"encoding": {"y": {"field": "v", "type": "quantitative", "scale": {"domain": [0, 1400], "nice": false},
  "axis": {"title": "TEMPERUTURE (℃)", "titleFont": "DejaVu Serif", "titleFontWeight": "bold", "titleFontSize": 15, "titleColor": "black", "titlePadding": 7, "format": "d",
    "values": [0, 200, 400, 538, 600, 649, 800, 1000, 1200, 1400], "labelFont": "DejaVu Serif", "labelOverlap": false, "labelBound": false,
    "labelFontSize": {"condition": {"test": "datum.value == 538 || datum.value == 649", "value": 14}, "value": 15},
    "labelColor": {"condition": {"test": "datum.value == 538 || datum.value == 649", "value": "#d42a2a"}, "value": "black"},
    "labelPadding": 3, "tickSize": 12, "tickColor": "#999",
    "tickOpacity": {"condition": {"test": "datum.value == 538 || datum.value == 649", "value": 0}, "value": 1},
    "gridColor": "#bbb", "gridDash": [2, 2],
    "gridOpacity": {"condition": {"test": "datum.value == 538 || datum.value == 649", "value": 0}, "value": 1},
    "domainColor": "#444"}}},
"layer": [
 {"data": {"values": [{"v": 649}, {"v": 538}]}, "mark": {"type": "rule", "color": "#e02a2a", "strokeWidth": 1.5, "strokeDash": [6, 4]}},
 {"transform": [{"filter": "datum.s === 'ISO Fire'"}], "mark": {"type": "line", "color": "black", "strokeWidth": 1.2, "interpolate": "monotone"},
  "encoding": {"x": {"field": "t", "type": "quantitative", "scale": {"domain": [0, 190], "nice": false, "zero": false},
    "axis": {"orient": "bottom", "title": "TIME (MIN)", "titleFont": "DejaVu Serif", "titleFontWeight": "bold", "titleFontSize": 14, "titleColor": "black", "titlePadding": 18,
      "values": [0, 30, 60, 90, 120, 150, 180], "format": "d",
      "labelFont": "DejaVu Serif", "labelFontSize": 15, "labelColor": "black", "labelPadding": 4, "labelFlush": false, "labelOverlap": false,
      "tickSize": -5, "tickColor": "#444", "domainColor": "#aaa", "domainWidth": 2.5, "grid": false}}}},
 {"transform": [{"filter": "datum.s !== 'ISO Fire' && datum.s !== 'Furnace Fire'"}], "mark": {"type": "line", "color": "black", "strokeWidth": 3.5},
  "encoding": {"x": {"field": "t", "type": "quantitative", "axis": null}, "detail": {"field": "s"}}},
 {"transform": [{"filter": "datum.s !== 'ISO Fire'"}], "mark": {"type": "point", "filled": true, "stroke": "black", "strokeWidth": 0.8, "size": 30, "opacity": 1},
  "encoding": {"x": {"field": "t", "type": "quantitative",
     "axis": {"orient": "bottom", "title": null, "labels": false, "domain": false, "grid": false, "values": [10, 20, 40, 50, 70, 80, 100, 110, 130, 140, 160, 170, 190], "tickSize": -5, "tickColor": "#444"}},
   "fill": {"field": "s", "type": "nominal", "scale": {"domain": ["ISO Fire", "Furnace Fire", "Slot 1", "Slot 2", "Face", "Edge"], "range": ["black", "white", "black", "black", "black", "black"]}, "legend": null},
   "shape": {"field": "s", "type": "nominal", "scale": {"domain": ["ISO Fire", "Furnace Fire", "Slot 1", "Slot 2", "Face", "Edge"], "range": ["circle", "square", "triangle-up", "square", "circle", "diamond"]}, "legend": null}}},
 {"transform": [{"filter": "datum.t === 0"}], "mark": {"type": "point", "filled": true, "color": "black", "opacity": 0},
  "encoding": {"x": {"field": "t", "type": "quantitative", "axis": null},
   "shape": {"field": "s", "type": "nominal", "scale": {"domain": ["ISO Fire", "Furnace Fire", "Slot 1", "Slot 2", "Face", "Edge"],
     "range": ["M-1,-0.08H1V0.08H-1Z", "M-0.36,-0.36H0.36V0.36H-0.36ZM-0.22,-0.22V0.22H0.22V-0.22Z", "M-1,-0.08H1V0.08H-1ZM-0.4,0.32L0,-0.4L0.4,0.32Z", "M-1,-0.08H1V0.08H-1ZM-0.32,-0.32H0.32V0.32H-0.32Z", "M-1,-0.08H1V0.08H-1ZM-0.34,0A0.34,0.34,0,1,1,0.34,0A0.34,0.34,0,1,1,-0.34,0Z", "M-1,-0.08H1V0.08H-1ZM-0.45,0L0,-0.45L0.45,0L0,0.45Z"]},
    "legend": {"orient": "none", "legendX": 14, "legendY": -37, "direction": "horizontal", "columns": 6, "title": null, "labelFont": "DejaVu Serif", "labelFontSize": 14.5, "labelColor": "black", "symbolSize": 200, "labelOffset": 3, "columnPadding": 7, "symbolOpacity": 1}}}}
]
}
]
}]
}
